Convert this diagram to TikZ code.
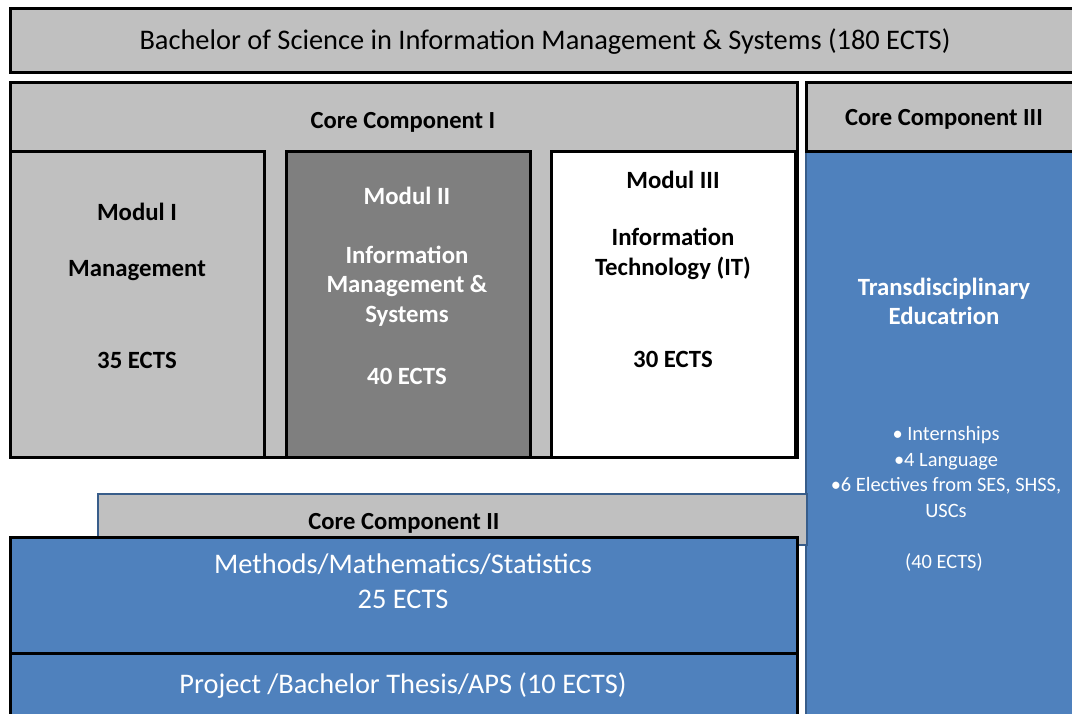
\documentclass[tikz,border=0pt]{standalone}
\usepackage{fontspec}
\setmainfont{Carlito}
\definecolor{lgray}{HTML}{C0C0C0}
\definecolor{dgray}{HTML}{7F7F7F}
\definecolor{blu}{HTML}{4F81BD}
\definecolor{dblu}{HTML}{385D8A}
\begin{document}
\begin{tikzpicture}[x=1pt,y=-1pt,
  blackbox/.style={draw=black,line width=3pt,line join=miter},
  bluebox/.style={draw=dblu,line width=2pt,line join=miter},
  hdr/.style={font=\fontsize{24.6}{28}\selectfont\bfseries,text=black,inner sep=0pt},
  modtxt/.style={font=\fontsize{24.8}{29.5}\selectfont\bfseries,align=center,inner sep=0pt},
  bigtxt/.style={font=\fontsize{28.4}{35}\selectfont,align=center,inner sep=0pt,text=white},
  smalltxt/.style={font=\fontsize{20.4}{25.5}\selectfont,align=center,inner sep=0pt,text=white}]
\useasboundingbox (0,0) rectangle (1072,713);
\clip (0,0) rectangle (1072,713);
\fill[white] (0,0) rectangle (1072,713);

% title bar
\filldraw[blackbox,fill=lgray] (10,8) rectangle (1085,72);
\node[font=\fontsize{28.4}{32}\selectfont,inner sep=0pt] (title) at (545,42) {Bachelor of Science in Information Management \& Systems (180 ECTS)};

% Core component I
\filldraw[blackbox,fill=lgray] (10,82) rectangle (797,457);
\node[hdr] (cc1) at (403,122) {Core Component I};

\filldraw[blackbox,fill=lgray] (10,151) rectangle (264,457);
\node[modtxt] (m1a) at (137,212) {Modul I};
\node[modtxt] (m1b) at (137,271) {Management};
\node[modtxt] (m1c) at (137,360) {35 ECTS};

\filldraw[blackbox,fill=dgray] (286,151) rectangle (530,457);
\node[modtxt,text=white] (m2a) at (407,196) {Modul II};
\node[modtxt,text=white] (m2b) at (407,286) {Information\\Management \&\\Systems};
\node[modtxt,text=white] (m2c) at (407,376) {40 ECTS};

\filldraw[blackbox,fill=white] (551,151) rectangle (795,457);
\node[modtxt] (m3a) at (673,180) {Modul III};
\node[modtxt] (m3b) at (673,254) {Information\\Technology (IT)};
\node[modtxt] (m3c) at (673,359) {30 ECTS};

% Core component III
\fill[blu] (806,152) rectangle (1085,720);
\draw[dblu,line width=2pt] (806,152) -- (806,720);
\draw[dblu,line width=2pt] (806,152) -- (1085,152);
\filldraw[blackbox,fill=lgray] (806,82) rectangle (1085,151);
\node[hdr] (cc3) at (944,119) {Core Component III};
\node[modtxt,text=white] (td) at (944,301.5) {Transdisciplinary\\Educatrion};
\node[smalltxt] (bul) at (946,472) {• Internships\\•4 Language\\•6 Electives from SES, SHSS,\\USCs};
\node[smalltxt] (ects40) at (944,562) {(40 ECTS)};

% Core component II
\filldraw[bluebox,fill=lgray] (98,494) rectangle (807,545);
\node[hdr] (cc2) at (404,523) {Core Component II};

% Methods
\filldraw[blackbox,fill=blu] (10,537) rectangle (797,653);
\node[bigtxt] (meth) at (403,581.5) {Methods/Mathematics/Statistics\\25 ECTS};
\filldraw[blackbox,fill=blu] (10,653) rectangle (797,725);
\node[bigtxt] (proj) at (403,686) {Project /Bachelor Thesis/APS (10 ECTS)};
\end{tikzpicture}
\end{document}
